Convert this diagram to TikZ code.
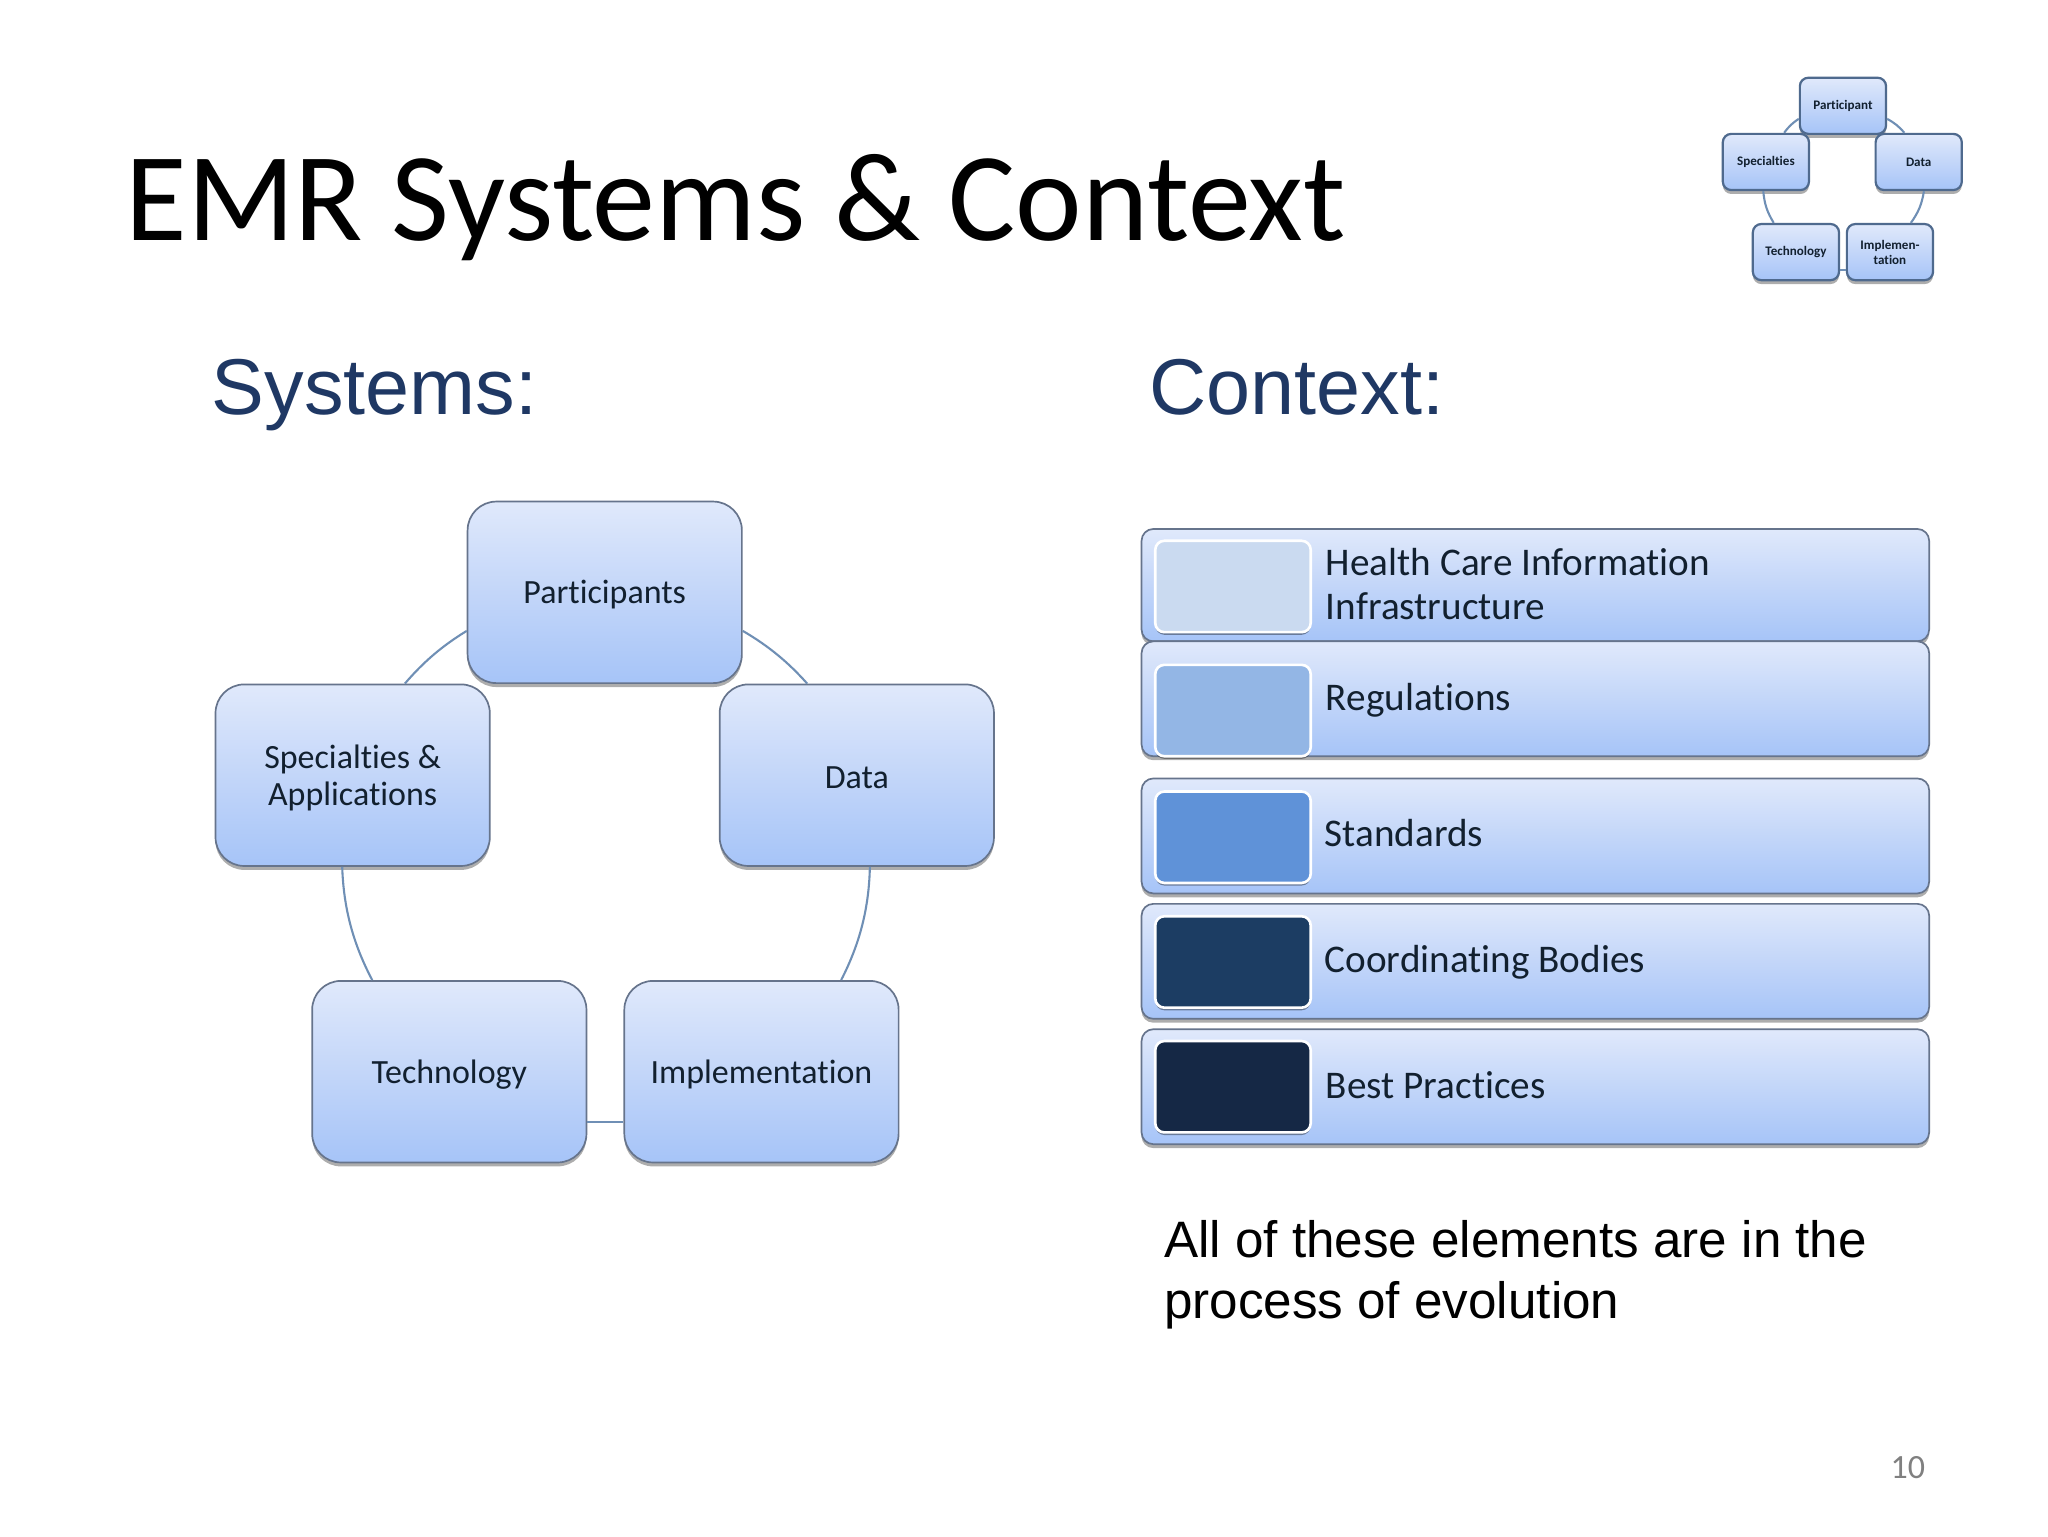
\documentclass[tikz,border=0pt]{standalone}
\usepackage{fontspec}
\setmainfont[Ligatures=NoCommon]{Carlito}
\newfontfamily\arialfont{Liberation Sans}
\usetikzlibrary{shadows,calc}
\newcommand{\cyclab}[1]{\raisebox{-2pt}[\height][\depth]{#1}}
\definecolor{edgeblue}{HTML}{6F8FB5}
\definecolor{boxline}{HTML}{66748C}
\definecolor{miniline}{HTML}{4F6A8E}
\definecolor{headblue}{HTML}{1F3864}
\definecolor{inkdark}{HTML}{12202F}
\definecolor{lighttop}{HTML}{E0E9FB}
\definecolor{lightmid}{HTML}{C3D6F9}
\definecolor{lightbot}{HTML}{A6C4F8}
\definecolor{sw1}{HTML}{CADAF0}
\definecolor{sw2}{HTML}{93B6E5}
\definecolor{sw3}{HTML}{5F92D8}
\definecolor{sw4}{HTML}{1C3D63}
\definecolor{sw5}{HTML}{152845}
\tikzset{
  x=1pt,y=-1pt,
  softshadow/.style={drop shadow={shadow xshift=0pt,shadow yshift=-3pt,fill=black,opacity=.32}},
  cycbox/.style={rectangle,rounded corners=22pt,minimum width=210pt,minimum height=139pt,inner sep=0pt,draw=boxline,line width=1.3pt,top color=lighttop,bottom color=lightbot,middle color=lightmid,softshadow,align=center,text=inkdark,font=\fontsize{26}{28}\selectfont},
  minibox/.style={rectangle,rounded corners=6.5pt,minimum width=66pt,minimum height=43pt,inner sep=0pt,draw=miniline,line width=1.7pt,top color=lighttop,bottom color=lightbot,middle color=lightmid,softshadow,align=center,text=inkdark,font=\fontsize{10}{11.5}\selectfont\bfseries},
  rowbox/.style={rectangle,rounded corners=9pt,minimum width=603pt,inner sep=0pt,draw=boxline,line width=1.3pt,top color=lighttop,bottom color=lightbot,middle color=lightmid,softshadow},
  swatch/.style={rectangle,rounded corners=7pt,minimum width=119pt,inner sep=0pt,draw=white,line width=2pt,fill=#1,drop shadow={shadow xshift=0pt,shadow yshift=-2pt,fill=black,opacity=.38}},
  rowtext/.style={anchor=west,inner sep=0pt,align=left,text=inkdark,font=\fontsize{30}{33.5}\selectfont},
  edgearc/.style={draw=edgeblue,line width=1.6pt},
}
\begin{document}
\begin{tikzpicture}
\useasboundingbox (0,0) rectangle (1568,1176);
\fill[white] (0,0) rectangle (1568,1176);

% title and headings
\node[anchor=base west,inner sep=0pt,font=\fontsize{96.5}{100}\selectfont,text=black] (title) at (96,184.5) {EMR Systems \& Context};
\node[anchor=base west,inner sep=0pt,font=\arialfont\fontsize{60.6}{70}\selectfont,text=headblue] (sys) at (162,317) {Systems:};
\node[anchor=base west,inner sep=0pt,font=\arialfont\fontsize{60.6}{70}\selectfont,text=headblue] (ctx) at (880,317) {Context:};

% main cycle
\node[cycbox] (part) at (463,453.5) {\cyclab{Participants}};
\node[cycbox] (spec) at (270,593.5) {\cyclab{Specialties \&}\\\cyclab{Applications}};
\node[cycbox] (data) at (656,593.5) {\cyclab{Data}};
\node[cycbox] (tech) at (344,820.5) {\cyclab{Technology}};
\node[cycbox] (impl) at (583,820.5) {\cyclab{Implementation}};

\draw[edgearc] ($(spec.north)+(40,0)$) to[bend left=9,looseness=.9] ($(part.west)+(0,29.5)$);
\draw[edgearc] ($(part.east)+(0,29.5)$) to[bend left=9,looseness=.9] ($(data.north)+(-38,0)$);
\draw[edgearc] ($(data.south)+(10,0)$) to[bend left=13,looseness=.9] ($(impl.north)+(61,0)$);
\draw[edgearc] ($(impl.west)+(0,38.5)$) -- ($(tech.east)+(0,38.5)$);
\draw[edgearc] ($(tech.north)+(-59,0)$) to[bend left=13,looseness=.9] ($(spec.south)+(-8,0)$);

% small cycle
\node[minibox] (m1) at (1411,81) {Participant};
\node[minibox] (m2) at (1352,124) {Specialties};
\node[minibox] (m3) at (1469,124) {Data};
\node[minibox] (m4) at (1375,193) {Technology};
\node[minibox] (m5) at (1447,193) {Implemen-\\tation};

\draw[edgearc] ($(m2.north)+(14,0)$) to[bend left=10] ($(m1.west)+(0,10)$);
\draw[edgearc] ($(m1.east)+(0,10)$) to[bend left=10] ($(m3.north)+(-11,0)$);
\draw[edgearc] ($(m3.south)+(4,0)$) to[bend left=13] ($(m5.north)+(16,0)$);
\draw[edgearc] ($(m5.west)+(0,14)$) -- ($(m4.east)+(0,14)$);
\draw[edgearc] ($(m4.north)+(-17,0)$) to[bend left=13] ($(m2.south)+(-2,0)$);

% context rows
\node[rowbox,minimum height=86pt] (r1) at (1175.5,448) {};
\node[swatch=sw1,minimum height=70pt] (s1) at (944,449) {};
\node[rowbox,minimum height=88pt] (r2) at (1175.5,535) {};
\node[swatch=sw2,minimum height=70pt] (s2) at (944,544) {};
\node[rowbox,minimum height=88pt] (r3) at (1175.5,640) {};
\node[swatch=sw3,minimum height=70pt] (s3) at (944,641) {};
\node[rowbox,minimum height=88pt] (r4) at (1175.5,736) {};
\node[swatch=sw4,minimum height=70pt] (s4) at (944,736.5) {};
\node[rowbox,minimum height=88pt] (r5) at (1175.5,832) {};
\node[swatch=sw5,minimum height=70pt] (s5) at (944,832) {};

\node[rowtext] (t1) at (1015,447) {Health Care Information\\Infrastructure};
\node[rowtext] (t2) at (1015,536) {Regulations};
\node[rowtext] (t3) at (1014,638) {Standards};
\node[rowtext] (t4) at (1014,737) {Coordinating Bodies};
\node[rowtext] (t5) at (1015,831) {Best Practices};

% note and page number
\node[anchor=north west,inner sep=0pt,align=left,text=black,font=\arialfont\fontsize{39.2}{47}\selectfont] (note) at (891,934) {All of these elements are in the\\process of evolution};
\node[anchor=base east,inner sep=0pt,text=black!50,font=\fontsize{26}{28}\selectfont] (pg) at (1474,1132) {10};
\end{tikzpicture}
\end{document}
